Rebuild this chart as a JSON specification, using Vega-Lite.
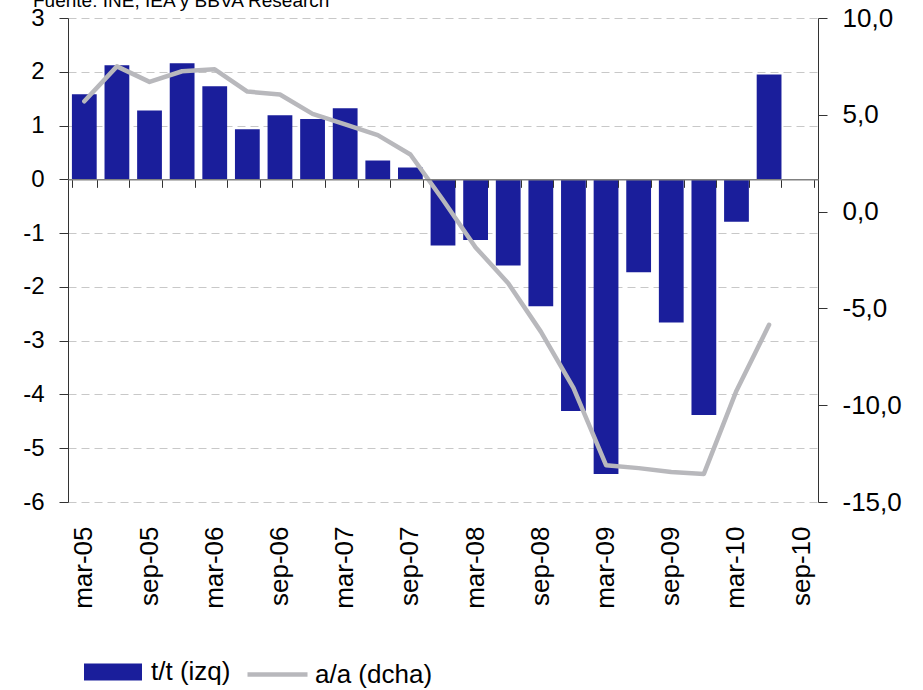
{
  "$schema": "https://vega.github.io/schema/vega-lite/v6.json",
  "width": 750,
  "height": 484,
  "autosize": {"type": "none"},
  "padding": {"left": 68, "top": 18, "right": 105, "bottom": 188},
  "background": "white",
  "title": {
    "text": "Fuente: INE, IEA y BBVA Research",
    "anchor": "start",
    "frame": "group",
    "fontSize": 19,
    "fontWeight": "normal",
    "font": "Liberation Sans",
    "color": "#000000",
    "baseline": "alphabetic",
    "offset": -21,
    "dx": -35
  },
  "config": {
    "view": {"stroke": null},
    "font": "Liberation Sans",
    "axis": {"labelFont": "Liberation Sans", "labelColor": "#000000"},
    "legend": {"labelFont": "Liberation Sans", "labelColor": "#000000"}
  },
  "data": {
    "values": [
      {"q": "mar-05", "tt": 1.58, "aa": 5.7, "s1": "t/t (izq)", "s2": "a/a (dcha)"},
      {"q": "jun-05", "tt": 2.12, "aa": 7.5, "s1": "t/t (izq)", "s2": "a/a (dcha)"},
      {"q": "sep-05", "tt": 1.28, "aa": 6.7, "s1": "t/t (izq)", "s2": "a/a (dcha)"},
      {"q": "dec-05", "tt": 2.16, "aa": 7.25, "s1": "t/t (izq)", "s2": "a/a (dcha)"},
      {"q": "mar-06", "tt": 1.73, "aa": 7.35, "s1": "t/t (izq)", "s2": "a/a (dcha)"},
      {"q": "jun-06", "tt": 0.93, "aa": 6.2, "s1": "t/t (izq)", "s2": "a/a (dcha)"},
      {"q": "sep-06", "tt": 1.19, "aa": 6.05, "s1": "t/t (izq)", "s2": "a/a (dcha)"},
      {"q": "dec-06", "tt": 1.12, "aa": 5.05, "s1": "t/t (izq)", "s2": "a/a (dcha)"},
      {"q": "mar-07", "tt": 1.32, "aa": 4.5, "s1": "t/t (izq)", "s2": "a/a (dcha)"},
      {"q": "jun-07", "tt": 0.35, "aa": 3.95, "s1": "t/t (izq)", "s2": "a/a (dcha)"},
      {"q": "sep-07", "tt": 0.22, "aa": 2.95, "s1": "t/t (izq)", "s2": "a/a (dcha)"},
      {"q": "dec-07", "tt": -1.23, "aa": 0.6, "s1": "t/t (izq)", "s2": "a/a (dcha)"},
      {"q": "mar-08", "tt": -1.13, "aa": -1.85, "s1": "t/t (izq)", "s2": "a/a (dcha)"},
      {"q": "jun-08", "tt": -1.6, "aa": -3.7, "s1": "t/t (izq)", "s2": "a/a (dcha)"},
      {"q": "sep-08", "tt": -2.36, "aa": -6.2, "s1": "t/t (izq)", "s2": "a/a (dcha)"},
      {"q": "dec-08", "tt": -4.31, "aa": -9.1, "s1": "t/t (izq)", "s2": "a/a (dcha)"},
      {"q": "mar-09", "tt": -5.48, "aa": -13.1, "s1": "t/t (izq)", "s2": "a/a (dcha)"},
      {"q": "jun-09", "tt": -1.73, "aa": -13.25, "s1": "t/t (izq)", "s2": "a/a (dcha)"},
      {"q": "sep-09", "tt": -2.66, "aa": -13.45, "s1": "t/t (izq)", "s2": "a/a (dcha)"},
      {"q": "dec-09", "tt": -4.38, "aa": -13.55, "s1": "t/t (izq)", "s2": "a/a (dcha)"},
      {"q": "mar-10", "tt": -0.79, "aa": -9.25, "s1": "t/t (izq)", "s2": "a/a (dcha)"},
      {"q": "jun-10", "tt": 1.95, "aa": -5.85, "s1": "t/t (izq)", "s2": "a/a (dcha)"}
    ]
  },
  "layer": [
    {
      "mark": {"type": "bar"},
      "encoding": {
        "x": {
          "field": "q",
          "type": "nominal",
          "sort": null,
          "scale": {
            "domain": ["mar-05","jun-05","sep-05","dec-05","mar-06","jun-06","sep-06","dec-06","mar-07","jun-07","sep-07","dec-07","mar-08","jun-08","sep-08","dec-08","mar-09","jun-09","sep-09","dec-09","mar-10","jun-10","sep-10"],
            "paddingInner": 0.24,
            "paddingOuter": 0.12
          },
          "axis": {
            "title": null,
            "orient": "bottom",
            "domain": false,
            "ticks": false,
            "grid": false,
            "labelAngle": 270,
            "labelAlign": "right",
            "labelBaseline": "middle",
            "labelPadding": 24,
            "labelFontSize": 26,
            "labelOverlap": false,
            "labelExpr": "slice(datum.value,0,3)=='mar' || slice(datum.value,0,3)=='sep' ? datum.value : ''"
          }
        },
        "y": {
          "field": "tt",
          "type": "quantitative",
          "scale": {"domain": [-6, 3], "nice": false, "zero": false},
          "axis": {
            "title": null,
            "orient": "left",
            "values": [-6, -5, -4, -3, -2, -1, 0, 1, 2, 3],
            "labelExpr": "datum.value < 0 ? '-' + abs(datum.value) : '' + datum.value",
            "labelFontSize": 24,
            "labelPadding": 15,
            "tickSize": 9,
            "tickColor": "#333333",
            "domainColor": "#333333",
            "grid": true,
            "gridColor": "#c8c8c8",
            "gridDash": [8, 5]
          }
        },
        "fill": {
          "field": "s1",
          "type": "nominal",
          "scale": {"range": ["#1a1e9b"]},
          "legend": {
            "title": null,
            "orient": "none",
            "legendX": 16,
            "legendY": 625,
            "symbolType": "M-1,-0.293H1V0.293H-1Z",
            "symbolSize": 3364,
            "symbolStrokeWidth": 0,
            "labelFontSize": 26,
            "labelOffset": 9
          }
        }
      }
    },
    {
      "mark": {"type": "line", "strokeWidth": 4.5, "strokeJoin": "round", "strokeCap": "round"},
      "encoding": {
        "x": {
          "field": "q",
          "type": "nominal",
          "sort": null,
          "scale": {
            "domain": ["mar-05","jun-05","sep-05","dec-05","mar-06","jun-06","sep-06","dec-06","mar-07","jun-07","sep-07","dec-07","mar-08","jun-08","sep-08","dec-08","mar-09","jun-09","sep-09","dec-09","mar-10","jun-10","sep-10"],
            "paddingInner": 0.24,
            "paddingOuter": 0.12
          },
          "axis": {
            "title": null,
            "orient": "bottom",
            "offset": -322.67,
            "labels": false,
            "ticks": true,
            "tickBand": "extent",
            "tickSize": 8,
            "tickColor": "#333333",
            "domain": true,
            "domainColor": "#808080",
            "domainWidth": 1.5,
            "grid": false,
            "zindex": 1
          }
        },
        "y": {
          "field": "aa",
          "type": "quantitative",
          "scale": {"domain": [-15, 10], "nice": false, "zero": false},
          "axis": {
            "title": null,
            "orient": "right",
            "values": [-15, -10, -5, 0, 5, 10],
            "labelExpr": "(datum.value < 0 ? '-' : '') + abs(datum.value) + ',0'",
            "labelFontSize": 26,
            "labelPadding": 15,
            "tickSize": 9,
            "tickColor": "#333333",
            "domainColor": "#333333",
            "grid": false
          }
        },
        "stroke": {
          "field": "s2",
          "type": "nominal",
          "scale": {"range": ["#b8b8bc"]},
          "legend": {
            "title": null,
            "orient": "none",
            "legendX": 177,
            "legendY": 624,
            "symbolType": "M-1,0H1",
            "symbolSize": 3600,
            "symbolStrokeWidth": 4.5,
            "labelFontSize": 26,
            "labelOffset": 5
          }
        }
      }
    }
  ],
  "resolve": {"scale": {"y": "independent"}, "axis": {"x": "independent"}}
}
